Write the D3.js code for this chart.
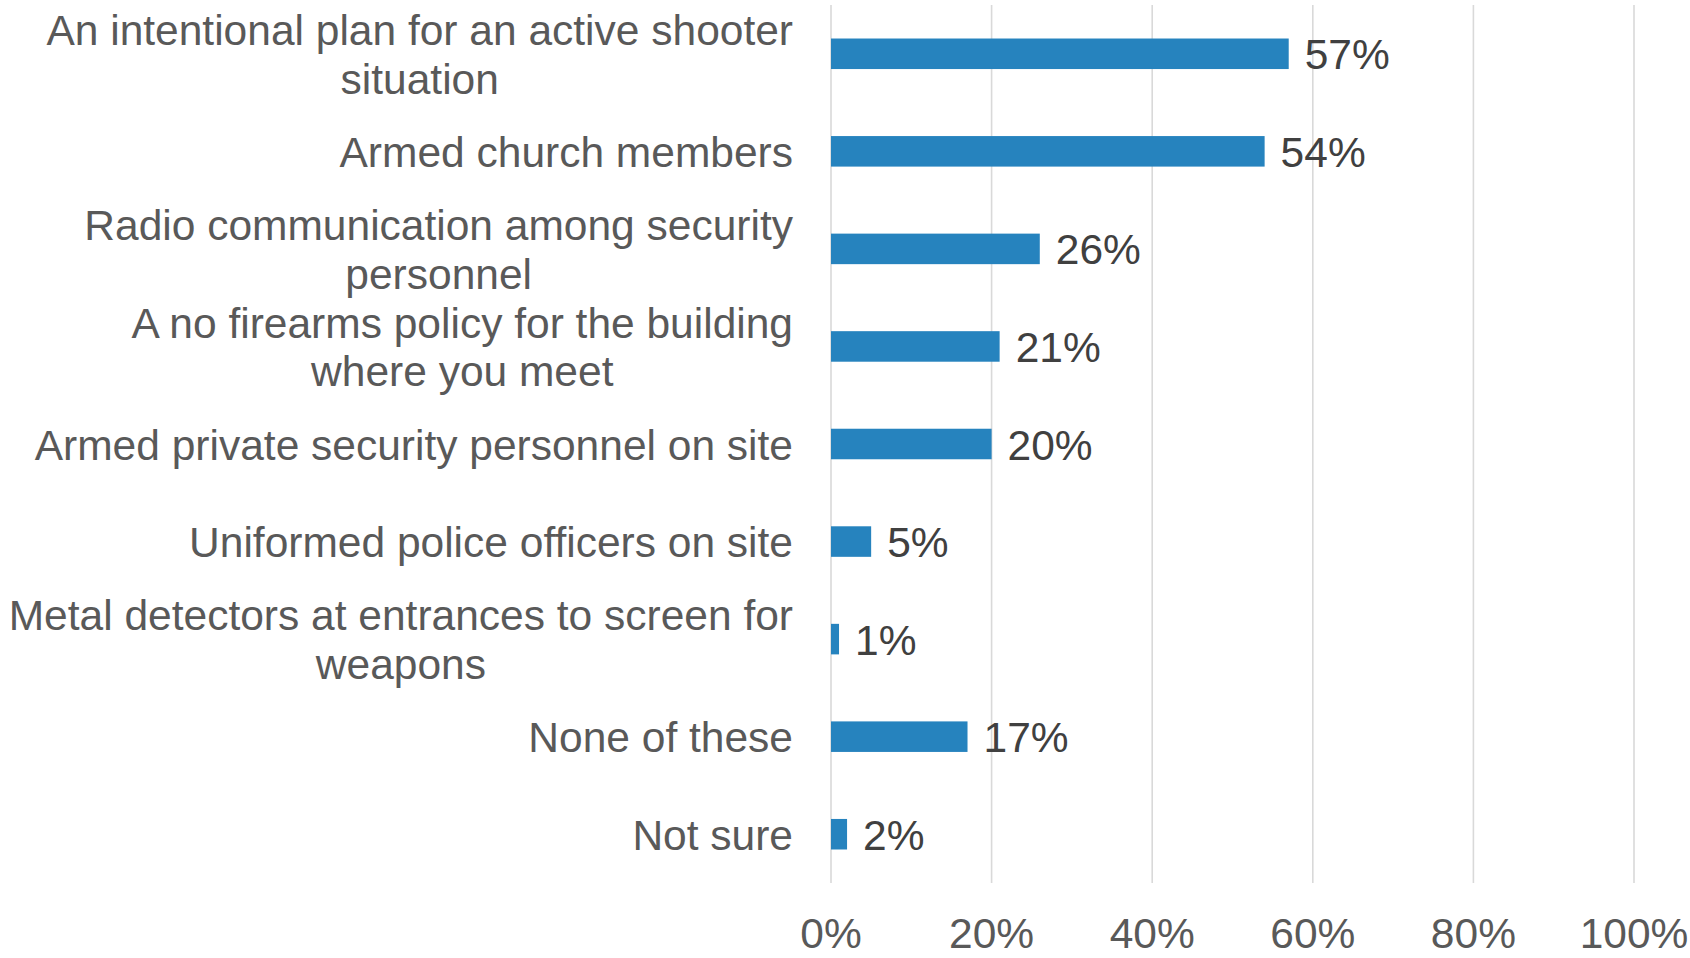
<!DOCTYPE html>
<html>
<head>
<meta charset="utf-8">
<script src="https://cdn.jsdelivr.net/npm/d3@7"></script>
<style>
  body { margin: 0; background: #ffffff; }
  svg { display: block; }
  text { font-family: "Liberation Sans", Arial, sans-serif; }
</style>
</head>
<body>
<div id="chart"></div>
<script>
// data
const categories = [
    'An intentional plan for an active shooter situation',
    'Armed church members',
    'Radio communication among security personnel',
    'A no firearms policy for the building where you meet',
    'Armed private security personnel on site',
    'Uniformed police officers on site',
    'Metal detectors at entrances to screen for weapons',
    'None of these',
    'Not sure'
];
const values = [57, 54, 26, 21, 20, 5, 1, 17, 2];
const x_ticks = [0, 20, 40, 60, 80, 100];

const width = 1690, height = 958;
const margin = {left: 831, right: 56, top: 5, bottom: 75};
const font_size = 42.5, line_height = 48.5;
const label_max_width = 787;
const label_right = 793;

const svg = d3.select('#chart').append('svg')
    .attr('width', width)
    .attr('height', height);

const x_scale = d3.scaleLinear()
    .domain([0, 100])
    .range([margin.left, width - margin.right]);

const y_scale = d3.scaleBand()
    .domain(categories)
    .range([margin.top, height - margin.bottom])
    .paddingInner(0.687)
    .paddingOuter(0.3435);

// gridlines
svg.append('g')
    .selectAll('line')
    .data(x_ticks)
    .enter()
  .append('line')
    .attr('x1', d => x_scale(d))
    .attr('x2', d => x_scale(d))
    .attr('y1', margin.top)
    .attr('y2', height - margin.bottom)
    .attr('stroke', '#d9d9d9')
    .attr('stroke-width', 1.6);

// x axis labels
svg.append('g')
    .selectAll('text')
    .data(x_ticks)
    .enter()
  .append('text')
    .attr('x', d => x_scale(d))
    .attr('y', 948)
    .attr('text-anchor', 'middle')
    .attr('fill', '#595959')
    .style('font-size', font_size + 'px')
    .text(d => d + '%');

// bars
svg.append('g')
    .selectAll('rect')
    .data(values)
    .enter()
  .append('rect')
    .attr('x', x_scale(0))
    .attr('y', (d, i) => y_scale(categories[i]))
    .attr('width', d => x_scale(d) - x_scale(0))
    .attr('height', y_scale.bandwidth())
    .attr('fill', '#2683be');

// value labels
svg.append('g')
    .selectAll('text')
    .data(values)
    .enter()
  .append('text')
    .attr('x', d => x_scale(d) + 16)
    .attr('y', (d, i) => y_scale(categories[i]) + y_scale.bandwidth() / 2 + 15.5)
    .attr('fill', '#404040')
    .style('font-size', font_size + 'px')
    .text(d => d + '%');

// category labels: wrapped, lines centred in a block that sits against the axis
const cat_grp = svg.append('g');
categories.forEach(function(cat, i) {
    const t = cat_grp.append('text')
        .attr('text-anchor', 'middle')
        .attr('fill', '#595959')
        .style('font-size', font_size + 'px');
    const words = cat.split(' ');
    let lines = [], line = [];
    const probe = t.append('tspan');
    const measure = s => { probe.text(s); return probe.node().getComputedTextLength(); };
    words.forEach(function(w) {
        const test = line.concat([w]).join(' ');
        if (measure(test) > label_max_width && line.length) {
            lines.push(line.join(' '));
            line = [w];
        } else {
            line.push(w);
        }
    });
    lines.push(line.join(' '));
    const block_w = d3.max(lines, measure);
    probe.remove();

    const cx = label_right - block_w / 2;
    const cy = y_scale(cat) + y_scale.bandwidth() / 2;
    const first_base = cy + 15.5 - (lines.length - 1) * line_height / 2;
    lines.forEach(function(l, j) {
        t.append('tspan')
            .attr('x', cx)
            .attr('y', first_base + j * line_height)
            .text(l);
    });
});
</script>
</body>
</html>
